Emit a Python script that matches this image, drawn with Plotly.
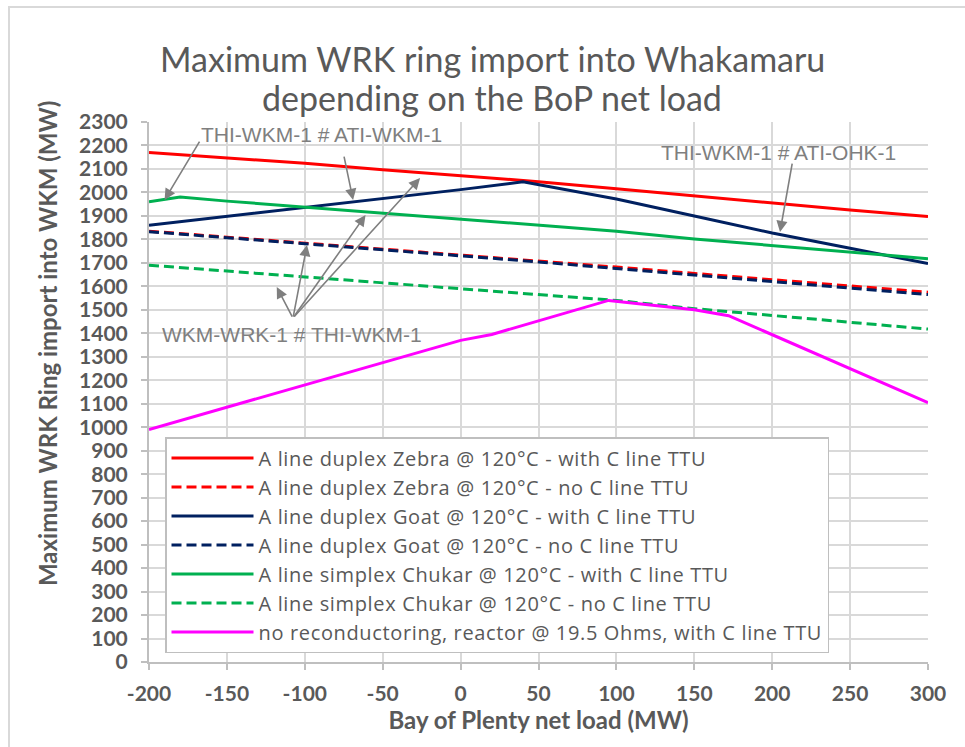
import plotly.graph_objects as go

# Bay of Plenty net load (MW)
load_std = [-200, -150, -100, -50, 0, 50, 100, 150, 200, 250, 300]
load_ticks = ["-200", "-150", "-100", "-50", "0", "50", "100", "150", "200", "250", "300"]

# Maximum WRK ring import into WKM (MW)
zebra_ttu = [2170, 2147, 2124, 2097, 2071, 2046, 2016, 1986, 1953, 1925, 1897]
zebra_no_ttu = [1835, 1810, 1785, 1760, 1735, 1710, 1682, 1655, 1628, 1602, 1575]

goat_load = [-200, -150, -100, -50, 0, 40, 100, 150, 200, 250, 300]
goat_ttu = [1860, 1898, 1935, 1973, 2012, 2045, 1972, 1900, 1827, 1762, 1697]
goat_no_ttu = [1833, 1808, 1782, 1756, 1730, 1704, 1676, 1648, 1620, 1593, 1565]

chukar_load = [-200, -180, -150, -100, -50, 0, 50, 100, 150, 200, 250, 300]
chukar_ttu = [1960, 1980, 1963, 1937, 1910, 1885, 1860, 1835, 1802, 1775, 1746, 1718]
chukar_no_ttu = [1690, 1665, 1640, 1615, 1590, 1563, 1540, 1505, 1475, 1445, 1418]

reactor_load = [-200, -100, 0, 20, 95, 150, 172, 300]
reactor_ttu = [990, 1180, 1370, 1395, 1540, 1500, 1475, 1105]

series = [
    ("A line duplex Zebra @ 120°C - with C line TTU", load_std, zebra_ttu, "#ff0000", "solid"),
    ("A line duplex Zebra @ 120°C - no C line TTU", load_std, zebra_no_ttu, "#ff0000", "10px,5px"),
    ("A line duplex Goat @ 120°C - with C line TTU", goat_load, goat_ttu, "#002060", "solid"),
    ("A line duplex Goat @ 120°C - no C line TTU", load_std, goat_no_ttu, "#002060", "10px,5px"),
    ("A line simplex Chukar @ 120°C - with C line TTU", chukar_load, chukar_ttu, "#00b050", "solid"),
    ("A line simplex Chukar @ 120°C - no C line TTU", load_std, chukar_no_ttu, "#00b050", "10px,5px"),
    ("no reconductoring, reactor @ 19.5 Ohms, with C line TTU", reactor_load, reactor_ttu, "#ff00ff", "solid"),
]

TEXT = "#595959"
GRID = "#d9d9d9"
AXIS = "#bfbfbf"
NOTE = "#7f7f7f"

# plot-area geometry in pixels, used to place paper-referenced items
L, R, T, B = 149, 928, 122, 662
def px_x(p):
    return (p - L) / (R - L)
def px_y(p):
    return (B - p) / (B - T)

fig = go.Figure()
for name, xs, ys, color, dash in series:
    fig.add_trace(go.Scatter(
        x=xs, y=ys, mode="lines",
        name='<span style="letter-spacing:0.65px">' + name + "</span>",
        line=dict(color=color, width=3, dash=dash),
    ))

# Contingency call-outs: label positions, then arrows (head, tail)
labels = [
    ("THI-WKM-1 # ATI-WKM-1", -89, 2245),
    ("THI-WKM-1 # ATI-OHK-1", 204, 2172),
    ("WKM-WRK-1 # THI-WKM-1", -108, 1393),
]
arrows = [
    (-190, 1968, -167, 2223),
    (-69, 1968, -75, 2159),
    (205, 1831, 213, 2129),
    (-118, 1597, -107.6, 1465),
    (-98.6, 1776, -107.6, 1465),
    (-61, 1904, -107.6, 1465),
    (-26, 2061, -107.6, 1465),
]

annotations = []
for text, x, y in labels:
    annotations.append(dict(
        x=x, y=y, xref="x", yref="y", text=text, showarrow=False,
        font=dict(family="Liberation Sans, Arial", size=21, color=NOTE),
    ))
for hx, hy, tx, ty in arrows:
    annotations.append(dict(
        x=hx, y=hy, ax=tx, ay=ty, xref="x", yref="y", axref="x", ayref="y",
        text="", showarrow=True, arrowhead=2, arrowsize=1.4, arrowwidth=1.6,
        arrowcolor=NOTE,
    ))

# Two-line chart title
title_lines = ["Maximum WRK ring import into Whakamaru", "depending on the BoP net load"]
for line, ypx in zip(title_lines, [59, 97]):
    annotations.append(dict(
        x=px_x(492), y=px_y(ypx), xref="paper", yref="paper",
        xanchor="center", yanchor="middle", text=line, showarrow=False,
        font=dict(family="Lato", size=34, color=TEXT),
    ))

# Value-axis title, rotated
annotations.append(dict(
    x=px_x(47), y=px_y(344), xref="paper", yref="paper", textangle=-90,
    xanchor="center", yanchor="middle",
    text="<b>Maximum WRK Ring import into WKM (MW)</b>", showarrow=False,
    font=dict(family="Lato", size=24, color=TEXT),
))

fig.update_layout(
    width=965, height=747,
    margin=dict(l=L, r=965 - R, t=T, b=747 - B),
    paper_bgcolor="white", plot_bgcolor="white",
    xaxis=dict(
        range=[-200, 300], tickmode="array",
        tickvals=load_std, ticktext=load_ticks,
        showgrid=True, gridcolor=GRID, gridwidth=2,
        showline=True, linecolor=AXIS, linewidth=2,
        ticks="outside", ticklen=6, tickcolor=AXIS, tickwidth=1.5,
        ticklabelstandoff=6,
        tickfont=dict(family="Lato", size=21, color=TEXT, weight="bold"),
        zeroline=False,
        title=dict(text="<b>Bay of Plenty net load (MW)</b>", standoff=6,
                   font=dict(family="Lato", size=24, color=TEXT)),
    ),
    yaxis=dict(
        range=[0, 2300], tickmode="linear", tick0=0, dtick=100,
        showgrid=True, gridcolor=GRID, gridwidth=2,
        showline=True, linecolor=AXIS, linewidth=2,
        ticks="outside", ticklen=6, tickcolor=AXIS, tickwidth=1.5,
        ticklabelstandoff=9,
        tickfont=dict(family="Lato", size=21, color=TEXT, weight="bold"),
        zeroline=False,
    ),
    legend=dict(
        x=px_x(165), y=px_y(437), xanchor="left", yanchor="top",
        bgcolor="white", bordercolor=AXIS, borderwidth=1.5,
        font=dict(family="Open Sans", size=20, color=TEXT),
        itemwidth=82, tracegroupgap=0,
    ),
    annotations=annotations,
    shapes=[
        dict(type="rect", xref="paper", yref="paper",
             x0=px_x(9), x1=px_x(975), y0=px_y(760), y1=px_y(7),
             line=dict(color=GRID, width=2), layer="below"),
    ],
)

fig.write_html("out.html")
